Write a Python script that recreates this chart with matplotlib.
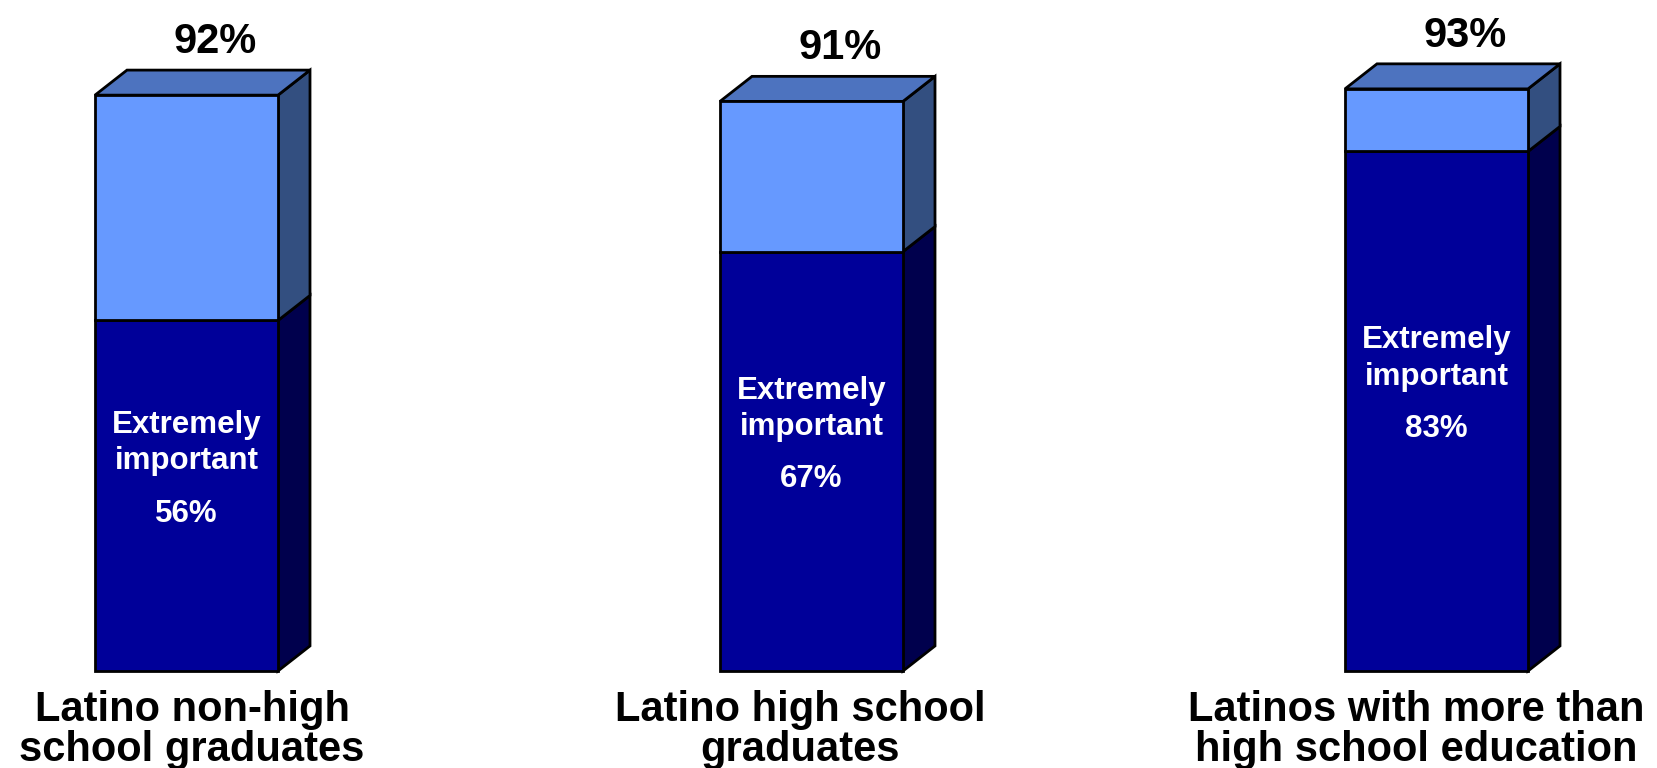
import matplotlib.pyplot as plt
from matplotlib.patches import Polygon

categories = ['Latino non-high\nschool graduates',
              'Latino high school\ngraduates',
              'Latinos with more than\nhigh school education']
extremely = [56, 67, 83]
total = [92, 91, 93]

front_dark = '#000099'
side_dark = '#00004D'
front_light = '#6699FF'
side_light = '#334F80'
top_col = '#4D73BF'
fam = ['Liberation Sans', 'DejaVu Sans']

fig = plt.figure(figsize=(16.57, 7.68), dpi=100)
ax = fig.add_axes([0, 0, 1, 1])
ax.set_xlim(-0.2984, 2.3528)
ax.set_ylim(-15.5, 107.2)
ax.axis('off')

w = 0.2928
dx, dy = 0.0512, 4.0
xs = range(len(categories))
rest = [t - e for t, e in zip(total, extremely)]

ax.bar(xs, extremely, width=w, color=front_dark, edgecolor='black', linewidth=2, zorder=3)
ax.bar(xs, rest, width=w, bottom=extremely, color=front_light, edgecolor='black',
       linewidth=2, zorder=3)

for x, e, t in zip(xs, extremely, total):
    r = x + w / 2
    l = x - w / 2
    ax.add_patch(Polygon([(r, 0), (r + dx, dy), (r + dx, e + dy), (r, e)],
                         closed=True, fc=side_dark, ec='black', lw=2, zorder=2))
    ax.add_patch(Polygon([(r, e), (r + dx, e + dy), (r + dx, t + dy), (r, t)],
                         closed=True, fc=side_light, ec='black', lw=2, zorder=2))
    ax.add_patch(Polygon([(l, t), (l + dx, t + dy), (r + dx, t + dy), (r, t)],
                         closed=True, fc=top_col, ec='black', lw=2, zorder=2))

    ax.text(x + dx / 2 + 0.02, t + dy + 4.5, f'{t}%', ha='center', va='center',
            fontsize=30, fontweight='bold', family=fam)
    mid = e / 2
    for dyt, s in [(11.3, 'Extremely'), (5.5, 'important'), (-2.9, f'{e}%')]:
        ax.text(x, mid + dyt, s, ha='center', va='center', color='white',
                fontsize=22.5, fontweight='bold', family=fam)

label_x = [0.009, -0.018, -0.033]
for x, off, c in zip(xs, label_x, categories):
    ax.text(x + off, -9.4, c, ha='center', va='center', fontsize=30, fontweight='bold',
            linespacing=1.0, family=fam)

fig.savefig('out.png', dpi=100)
